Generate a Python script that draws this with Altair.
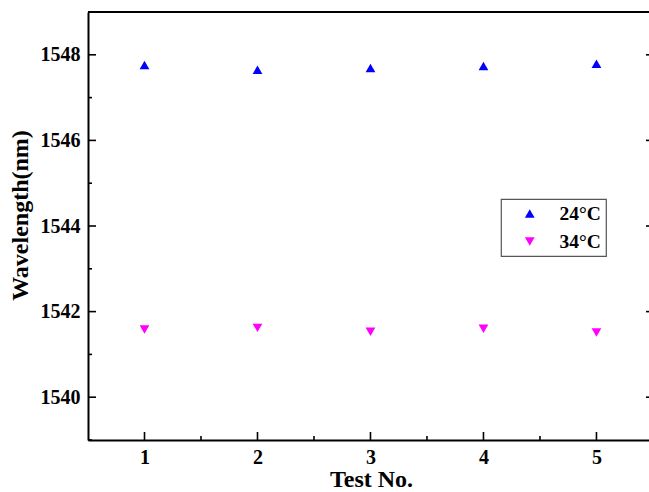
import altair as alt
import pandas as pd

test_no = [1, 2, 3, 4, 5]
wl_24 = [1547.76, 1547.65, 1547.69, 1547.74, 1547.79]
wl_34 = [1541.58, 1541.62, 1541.53, 1541.60, 1541.51]
series_names = ["24°C", "34°C"]

y_major = [1540, 1542, 1544, 1546, 1548]
y_minor = [1539, 1541, 1543, 1545, 1547]
x_major = [1, 2, 3, 4, 5]
x_minor = [1.5, 2.5, 3.5, 4.5]

W, H = 561, 428
FONT = "'Liberation Serif', 'Times New Roman', 'DejaVu Serif', serif"

df = pd.DataFrame({
    "test": test_no * 2,
    "wl": wl_24 + wl_34,
    "series": [series_names[0]] * 5 + [series_names[1]] * 5,
})

xs = alt.Scale(domain=[0.5, 5.465], nice=False, zero=False)
ys = alt.Scale(domain=[1539, 1549], nice=False, zero=False)

points = alt.Chart(df).mark_point(filled=True, size=95, opacity=1).encode(
    x=alt.X("test:Q", scale=xs, title="Test No.",
            axis=alt.Axis(values=x_major, format="d", ticks=False, grid=False,
                          domainWidth=2, domainColor="black", labelPadding=7,
                          titleX=283, titleY=46, titleBaseline="alphabetic",
                          titleAlign="center")),
    y=alt.Y("wl:Q", scale=ys, title="Wavelength(nm)",
            axis=alt.Axis(values=y_major, format="d", ticks=False, grid=False,
                          domainWidth=2, domainColor="black", labelPadding=8,
                          titleX=-61, titleY=203, titleBaseline="alphabetic",
                          titleAlign="center", titleAngle=270)),
    color=alt.Color("series:N", scale=alt.Scale(domain=series_names, range=["#0000ff", "#ff00ff"]),
                    legend=alt.Legend(title=None)),
    shape=alt.Shape("series:N", scale=alt.Scale(domain=series_names, range=["triangle-up", "triangle-down"]),
                    legend=alt.Legend(title=None)),
)

ymaj_df = pd.DataFrame({"v": y_major})
ymin_df = pd.DataFrame({"v": y_minor})
xmaj_df = pd.DataFrame({"v": x_major})
xmin_df = pd.DataFrame({"v": x_minor})

rule_style = dict(color="black", strokeWidth=1.6)

ly_major = alt.Chart(ymaj_df).mark_rule(**rule_style).encode(
    y=alt.Y("v:Q", scale=ys), x=alt.value(0), x2=alt.value(8))
ly_minor = alt.Chart(ymin_df).mark_rule(**rule_style).encode(
    y=alt.Y("v:Q", scale=ys), x=alt.value(0), x2=alt.value(4))
ry_major = alt.Chart(ymaj_df).mark_rule(**rule_style).encode(
    y=alt.Y("v:Q", scale=ys), x=alt.value(W - 3), x2=alt.value(W))
bx_major = alt.Chart(xmaj_df).mark_rule(**rule_style).encode(
    x=alt.X("v:Q", scale=xs), y=alt.value(H), y2=alt.value(H - 8))
bx_minor = alt.Chart(xmin_df).mark_rule(**rule_style).encode(
    x=alt.X("v:Q", scale=xs), y=alt.value(H), y2=alt.value(H - 4))
top_line = alt.Chart(ymaj_df).mark_rule(color="black", strokeWidth=2).encode(
    x=alt.value(0), x2=alt.value(W), y=alt.value(0))

chart = alt.layer(
    top_line, ly_major, ly_minor, ry_major, bx_major, bx_minor, points
).properties(
    width=W, height=H,
    padding={"left": 88, "top": 12, "right": 0, "bottom": 52},
    autosize=alt.AutoSizeParams(type="none"),
).configure_view(
    strokeWidth=0
).configure_axis(
    labelFont=FONT, labelFontWeight="bold", labelFontSize=20, labelColor="black",
    titleFont=FONT, titleFontWeight="bold", titleFontSize=24, titleColor="black",
).configure_legend(
    orient="none", legendX=413, legendY=187,
    strokeColor="#555555", strokeWidth=1.2, fillColor="white",
    padding=5, symbolOffset=14, labelOffset=20, rowPadding=8, clipHeight=19,
    labelFont=FONT, labelFontWeight="bold", labelFontSize=19.5, labelColor="black",
    symbolSize=95, symbolStrokeWidth=0,
)

chart.save("out.html", embed_options={"renderer": "svg", "actions": False})
